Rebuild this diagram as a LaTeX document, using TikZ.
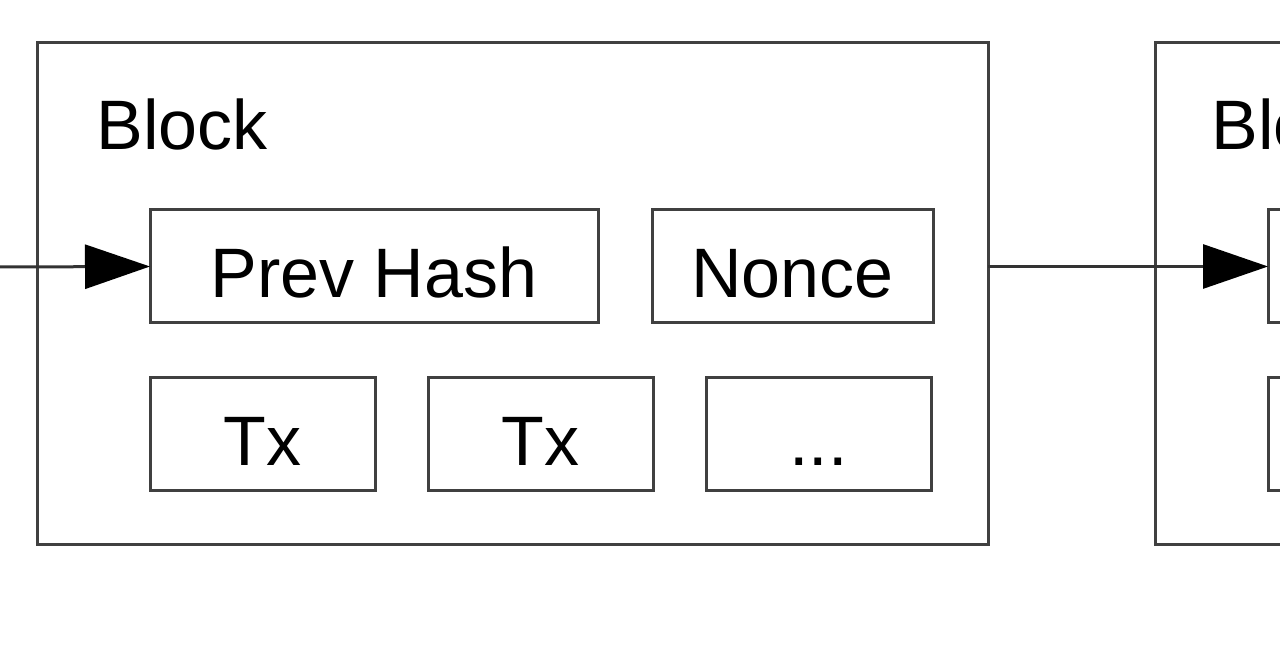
\documentclass[tikz,border=0pt]{standalone}
\usepackage{fontspec}
\setmainfont{Liberation Sans}
\usetikzlibrary{arrows.meta,positioning}

\begin{document}
\begin{tikzpicture}[
      x=0.5pt, y=-0.5pt,
      line width=1.5pt,
      block/.style = {
        rectangle, draw=black!75, fill=white, outer sep=0pt,
        minimum width=475.5pt, minimum height=251pt,
      },
      field/.style = {
        rectangle, draw=black!75, fill=white, outer sep=0pt, inner sep=0pt,
        minimum height=56.5pt, text height=33pt, text depth=1.5pt,
        font=\fontsize{35}{42}\selectfont,
      },
      title/.style = {
        anchor=base west, inner sep=0pt,
        font=\fontsize{35}{42}\selectfont,
      },
      link/.style = {
        draw=black!80, line width=1.5pt,
        -{Triangle[length=32.5pt,width=22pt,black]},
      },
    ]
    \useasboundingbox (0,0) rectangle (1280,667);
    \fill[white] (0,0) rectangle (1280,667);
    \clip (0,0) rectangle (1280,667);
    % first block
    \node[block] (Block1) at (512.5,294) {};
    \node[title] (Title1) at (95,150) {Block};
    \node[field,minimum width=224pt] (PrevHash1) at (374,266.5) {Prev Hash};
    \node[field,minimum width=140.5pt] (Nonce1) at (792.5,266.5) {Nonce};
    \node[field,minimum width=112.5pt] (TxA1) at (262.5,434) {Tx};
    \node[field,minimum width=112.5pt,right=26.5pt of TxA1] (TxB1) {Tx};
    \node[field,minimum width=112.5pt,right=26.5pt of TxB1] (More1) {...};
    % next block, cut off by the frame
    \node[block] (Block2) at (1630.5,294) {};
    \node[title] (Title2) at (1210,150) {Block};
    \node[field,minimum width=224pt] (PrevHash2) at (1492,266.5) {Prev Hash};
    \node[field,minimum width=112.5pt] (TxA2) at (1380.5,434) {Tx};
    % chain links
    \coordinate (In) at (0,267);
    \draw[link] (In) -- (PrevHash1.west);
    \draw[link] (Block1.east |- PrevHash2.west) -- (PrevHash2.west);
  \end{tikzpicture}
\end{document}
